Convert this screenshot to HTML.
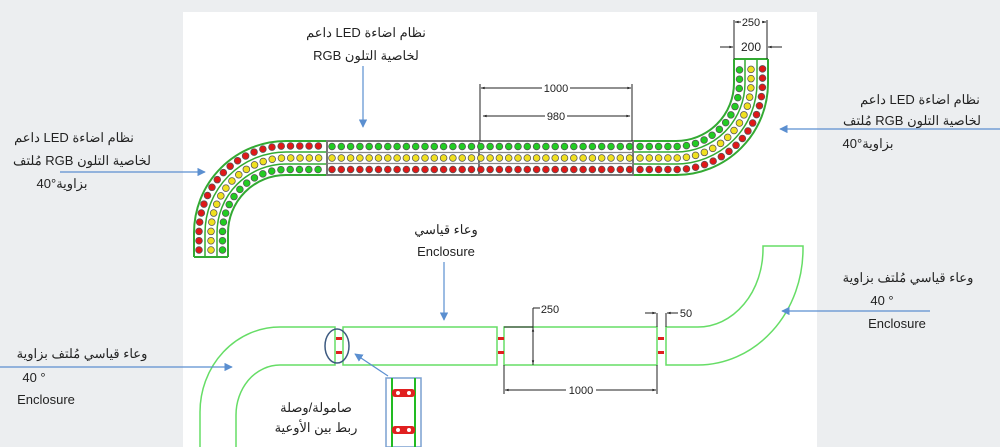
<!DOCTYPE html>
<html><head><meta charset="utf-8"><style>
body{margin:0;width:1000px;height:447px;overflow:hidden;background:#eceef0;}
svg{display:block}
text{font-family:"Liberation Sans","Noto Sans CJK SC",sans-serif;fill:#222;}
.ar{direction:rtl;unicode-bidi:embed;}
</style></head><body>
<svg width="1000" height="447" viewBox="0 0 1000 447" xmlns="http://www.w3.org/2000/svg">
<defs>
<marker id="ab" viewBox="0 0 10 10" refX="9" refY="5" markerWidth="7" markerHeight="7" orient="auto"><path d="M0,0 L10,5 L0,10 z" fill="#5b8fd0"/></marker>
<marker id="ak" viewBox="0 0 10 10" refX="9" refY="5" markerWidth="6" markerHeight="4" orient="auto"><path d="M0,2 L10,5 L0,8 z" fill="#222"/></marker>
</defs>
<rect x="183" y="12" width="634" height="435" fill="#fff"/>

<g fill="none">
<path d="M194,257 L194,233 A92,92 0 0 1 286,141 L327,141 M228,257 L228,233 A58,58 0 0 1 286,175 L327,175 M194,257 L228,257" stroke="#33aa33" stroke-width="2"/>
<path d="M205,257 L205,233 A81,81 0 0 1 286,152 L327,152 M217,257 L217,233 A69,69 0 0 1 286,164 L327,164" stroke="#33aa33" stroke-width="1.5"/>
<path d="M633,175 L676,175 A92,92 0 0 0 768,83 L768,59 M633,141 L676,141 A58,58 0 0 0 734,83 L734,59 M734,59 L768,59" stroke="#33aa33" stroke-width="2"/>
<path d="M633,164 L676,164 A81,81 0 0 0 757,83 L757,59 M633,152 L676,152 A69,69 0 0 0 745,83 L745,59" stroke="#33aa33" stroke-width="1.5"/>
<rect x="327" y="141" width="152" height="34" stroke="#777" stroke-width="2"/>
<rect x="479" y="141" width="154" height="34" stroke="#777" stroke-width="2"/>
<path d="M327,152.5 H633 M327,163.5 H633" stroke="#888" stroke-width="1.2"/>
<g stroke-linecap="round" stroke-dasharray="0 9.3">
<path d="M199,250 L199,233 A87,87 0 0 1 286,146 L322,146" stroke="#555" stroke-width="7.5"/>
<path d="M199,250 L199,233 A87,87 0 0 1 286,146 L322,146" stroke="#e01818" stroke-width="6"/>
<path d="M211,250 L211,233 A75,75 0 0 1 286,158 L322,158" stroke="#555" stroke-width="7.5"/>
<path d="M211,250 L211,233 A75,75 0 0 1 286,158 L322,158" stroke="#f0e020" stroke-width="6"/>
<path d="M222.5,250 L222.5,233 A63.5,63.5 0 0 1 286,169.5 L322,169.5" stroke="#555" stroke-width="7.5"/>
<path d="M222.5,250 L222.5,233 A63.5,63.5 0 0 1 286,169.5 L322,169.5" stroke="#22cc22" stroke-width="6"/>

<path d="M332,146.5 H630" stroke="#555" stroke-width="7.5"/>
<path d="M332,146.5 H630" stroke="#22cc22" stroke-width="6"/>
<path d="M332,158 H630" stroke="#555" stroke-width="7.5"/>
<path d="M332,158 H630" stroke="#f0e020" stroke-width="6"/>
<path d="M332,169.5 H630" stroke="#555" stroke-width="7.5"/>
<path d="M332,169.5 H630" stroke="#e01818" stroke-width="6"/>

<path d="M640,169.5 L676,169.5 A86.5,86.5 0 0 0 762.5,83 L762.5,65" stroke="#555" stroke-width="7.5"/>
<path d="M640,169.5 L676,169.5 A86.5,86.5 0 0 0 762.5,83 L762.5,65" stroke="#e01818" stroke-width="6"/>
<path d="M640,158 L676,158 A75,75 0 0 0 751,83 L751,65" stroke="#555" stroke-width="7.5"/>
<path d="M640,158 L676,158 A75,75 0 0 0 751,83 L751,65" stroke="#f0e020" stroke-width="6"/>
<path d="M640,146.5 L676,146.5 A63.5,63.5 0 0 0 739.5,83 L739.5,65" stroke="#555" stroke-width="7.5"/>
<path d="M640,146.5 L676,146.5 A63.5,63.5 0 0 0 739.5,83 L739.5,65" stroke="#22cc22" stroke-width="6"/>
</g>
</g>

<g stroke="#222" stroke-width="1" fill="none">
<path d="M480,84 V141 M632,84 V141"/>
<path d="M542,88 H481" marker-end="url(#ak)"/><path d="M570,88 H631" marker-end="url(#ak)"/>
<path d="M545,116 H483" marker-end="url(#ak)"/><path d="M567,116 H630" marker-end="url(#ak)"/>
<path d="M734,20 V59 M767,20 V59"/>
<path d="M741,22 H735" marker-end="url(#ak)"/><path d="M762,22 H766" marker-end="url(#ak)"/>
<path d="M720,47 H733" marker-end="url(#ak)"/><path d="M782,47 H768" marker-end="url(#ak)"/>
</g>
<text x="556" y="92" font-size="11" text-anchor="middle">1000</text>
<text x="556" y="120" font-size="11" text-anchor="middle">980</text>
<rect x="741" y="16" width="21" height="12" fill="#fff"/><text x="751" y="26" font-size="11" text-anchor="middle">250</text>
<text x="751" y="51" font-size="12" text-anchor="middle">200</text>

<g fill="none" stroke="#66dd66" stroke-width="1.5">
<path d="M200,447 V412 A80,85 0 0 1 280,327 H335 V365 H280 A44,50 0 0 0 236,415 V447"/>
<rect x="343" y="327" width="154" height="38"/>
<rect x="504" y="327" width="153" height="38"/>
<path d="M666,327 H698 A65,78 0 0 0 763,249 V246 H803 V249 A105,116 0 0 1 698,365 H666 Z"/>
</g>
<g fill="#e02020">
<rect x="336" y="337" width="6" height="3"/><rect x="336" y="351" width="6" height="3"/>
<rect x="498" y="337" width="6" height="3"/><rect x="498" y="351" width="6" height="3"/>
<rect x="658" y="337" width="6" height="3"/><rect x="658" y="351" width="6" height="3"/>
</g>
<ellipse cx="337" cy="346" rx="12" ry="17" fill="none" stroke="#3d5a80" stroke-width="1.5"/>
<rect x="386" y="378" width="35" height="69" fill="#fff" stroke="#7aa0d0" stroke-width="1.5"/>
<path d="M392,378 V447 M415,378 V447" stroke="#22bb22" stroke-width="2"/>
<g fill="#e02020"><rect x="392" y="389" width="23" height="8" rx="3"/><rect x="392" y="426" width="23" height="8" rx="3"/></g>
<g fill="#fff"><circle cx="398" cy="393" r="2"/><circle cx="409" cy="393" r="2"/><circle cx="398" cy="430" r="2"/><circle cx="409" cy="430" r="2"/></g>

<g stroke="#222" stroke-width="1" fill="none">
<path d="M504,327 H533 M533,308 V365 M504,365 V394 M657,365 V394 M657,313 V327 M666,313 V327 M533,308 H540"/>
<path d="M533,345 V328" marker-end="url(#ak)"/><path d="M533,348 V364" marker-end="url(#ak)"/>
<path d="M566,390 H505" marker-end="url(#ak)"/><path d="M596,390 H656" marker-end="url(#ak)"/>
<path d="M645,313 H656" marker-end="url(#ak)"/><path d="M678,313 H667" marker-end="url(#ak)"/>
</g>
<text x="550" y="313" font-size="11" text-anchor="middle">250</text>
<text x="581" y="394" font-size="11" text-anchor="middle">1000</text>
<text x="686" y="317" font-size="11" text-anchor="middle">50</text>

<g stroke="#5b8fd0" stroke-width="1.2" fill="none" marker-end="url(#ab)">
<path d="M363,66 V127"/>
<path d="M60,172 H205"/>
<path d="M1000,129 H780"/>
<path d="M444,262 V320"/>
<path d="M930,311 H782"/>
<path d="M0,367 H232"/>
<path d="M388,376 L355,354"/>
</g>

<g font-size="13" text-anchor="middle">
<text class="ar" x="366" y="37">نظام اضاءة LED داعم</text>
<text class="ar" x="366" y="60">لخاصية التلون RGB</text>
<text class="ar" x="74" y="142">نظام اضاءة LED داعم</text>
<text class="ar" x="82" y="165">لخاصية التلون RGB مُلتف</text>
<text class="ar" x="62" y="188">بزاوية°40</text>
<text class="ar" x="920" y="104">نظام اضاءة LED داعم</text>
<text class="ar" x="912" y="125">لخاصية التلون RGB مُلتف</text>
<text class="ar" x="868" y="148">بزاوية°40</text>
<text class="ar" x="446" y="234">وعاء قياسي</text>
<text x="446" y="256">Enclosure</text>
<text class="ar" x="908" y="282">وعاء قياسي مُلتف بزاوية</text>
<text x="882" y="305">40 °</text>
<text x="897" y="328">Enclosure</text>
<text class="ar" x="82" y="358">وعاء قياسي مُلتف بزاوية</text>
<text x="34" y="382">40 °</text>
<text x="46" y="404">Enclosure</text>
<text class="ar" x="316" y="412">صامولة/وصلة</text>
<text class="ar" x="316" y="432">ربط بين الأوعية</text>
</g>
</svg>
</body></html>
